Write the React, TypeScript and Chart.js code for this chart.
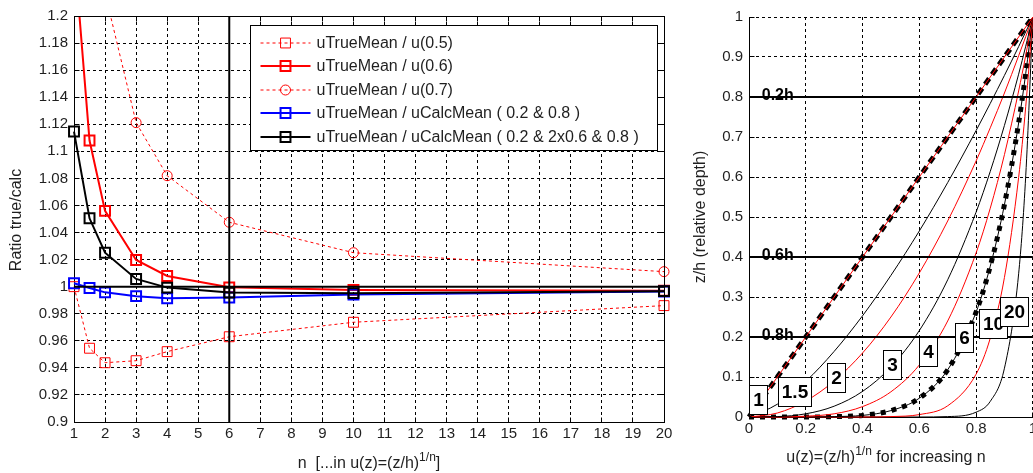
import React, { useEffect, useRef } from 'react';
import { Chart, registerables } from 'chart.js';

Chart.register(...registerables);

// ---------------- Left panel data ----------------
const nValues = [1, 1.5, 2, 3, 4, 6, 10, 20];
const ratioU05 = [1.0, 0.9545, 0.9438, 0.9453, 0.952, 0.963, 0.9737, 0.986];
const ratioU06 = [1.25, 1.108, 1.056, 1.0197, 1.0079, 0.9995, 0.9976, 0.997];
const ratioU07 = [1.667, 1.339, 1.217, 1.1212, 1.082, 1.0476, 1.0251, 1.0111];
const ratioCalc2pt = [1.0025, 0.999, 0.9958, 0.993, 0.9914, 0.992, 0.9942, 0.9964];
const ratioCalc4pt = [1.1146, 1.0505, 1.0251, 1.0057, 0.9993, 0.9956, 0.9952, 0.9967];
const seriesNames = [
  'uTrueMean / u(0.5)',
  'uTrueMean / u(0.6)',
  'uTrueMean / u(0.7)',
  'uTrueMean / uCalcMean ( 0.2 & 0.8 )',
  'uTrueMean / uCalcMean ( 0.2 & 2x0.6 & 0.8 )',
];
const unityLineN = [1, 20];
const unityLineRatio = [1, 1];
const markerLineN = [6, 6];
const markerLineRatio = [0.9, 1.2];
const nTicks = [1, 2, 3, 4, 5, 6, 7, 8, 9, 10, 11, 12, 13, 14, 15, 16, 17, 18, 19, 20];
const ratioTicks = [0.9, 0.92, 0.94, 0.96, 0.98, 1, 1.02, 1.04, 1.06, 1.08, 1.1, 1.12, 1.14, 1.16, 1.18, 1.2];
const ratioTickLabels = ['0.9', '0.92', '0.94', '0.96', '0.98', '1', '1.02', '1.04', '1.06', '1.08', '1.1', '1.12', '1.14', '1.16', '1.18', '1.2'];
const leftYTitle = 'Ratio true/calc';
const leftXTitle = [{ t: 'n  [...in u(z)=(z/h)' }, { t: '1/n', sup: true }, { t: ']' }];

// ---------------- Right panel data ----------------
const uGrid = [0, 0.1, 0.2, 0.3, 0.4, 0.5, 0.6, 0.7, 0.8, 0.85, 0.9, 0.95, 0.975, 1];
const zN1 = [0, 0.1, 0.2, 0.3, 0.4, 0.5, 0.6, 0.7, 0.8, 0.85, 0.9, 0.95, 0.975, 1];
const zN1p5 = [0, 0.032, 0.089, 0.164, 0.253, 0.354, 0.465, 0.586, 0.716, 0.784, 0.854, 0.926, 0.963, 1];
const zN2 = [0, 0.01, 0.04, 0.09, 0.16, 0.25, 0.36, 0.49, 0.64, 0.723, 0.81, 0.903, 0.951, 1];
const zN3 = [0, 0.001, 0.008, 0.027, 0.064, 0.125, 0.216, 0.343, 0.512, 0.614, 0.729, 0.857, 0.927, 1];
const zN4 = [0, 0, 0.002, 0.008, 0.026, 0.063, 0.13, 0.24, 0.41, 0.522, 0.656, 0.815, 0.904, 1];
const zN6 = [0, 0, 0, 0.001, 0.004, 0.016, 0.047, 0.118, 0.262, 0.377, 0.531, 0.735, 0.859, 1];
const zN10 = [0, 0, 0, 0, 0, 0.001, 0.006, 0.028, 0.107, 0.197, 0.349, 0.599, 0.776, 1];
const zN20 = [0, 0, 0, 0, 0, 0, 0, 0.001, 0.012, 0.039, 0.122, 0.358, 0.603, 1];
const profileLabels = ['1', '1.5', '2', '3', '4', '6', '10', '20'];
const profileLabelU = [0.03, 0.16, 0.305, 0.504, 0.632, 0.758, 0.858, 0.932];
const profileLabelZ = [0.044, 0.064, 0.099, 0.131, 0.165, 0.199, 0.234, 0.265];
const depthLineU = [0, 1];
const depthLineZ = [0.8, 0.4, 0.2];
const depthLabels = ['0.2h', '0.6h', '0.8h'];
const depthLabelU = 0.045;
const uTicks = [0, 0.2, 0.4, 0.6, 0.8, 1];
const uTickLabels = ['0', '0.2', '0.4', '0.6', '0.8', '1'];
const zTicks = [0, 0.1, 0.2, 0.3, 0.4, 0.5, 0.6, 0.7, 0.8, 0.9, 1];
const zTickLabels = ['0', '0.1', '0.2', '0.3', '0.4', '0.5', '0.6', '0.7', '0.8', '0.9', '1'];
const rightYTitle = 'z/h (relative depth)';
const rightXTitle = [{ t: 'u(z)=(z/h)' }, { t: '1/n', sup: true }, { t: ' for increasing n' }];

// ---------------- Styles ----------------
const FONT = "'Liberation Sans', Arial, Helvetica, sans-serif";
const TXT = '#1f1f1f';
const RED = '#ff0000';
const BLUE = '#0000ff';
const BLACK = '#000000';
const NONE = 'rgba(0,0,0,0)';

Chart.defaults.font.family = FONT;
Chart.defaults.color = TXT;

const pts = (xs: number[], ys: number[]) => xs.map((x, i) => ({ x, y: ys[i] }));
const align = (p: number, w = 1) => Math.round(p - w / 2) + w / 2;

function drawRich(ctx: CanvasRenderingContext2D, parts: any[], cx: number, base: number, size: number) {
  const main = `${size}px ${FONT}`;
  const sup = `${Math.round(size * 0.72)}px ${FONT}`;
  let total = 0;
  const widths = parts.map((p) => {
    ctx.font = p.sup ? sup : main;
    const w = ctx.measureText(p.t).width;
    total += w;
    return w;
  });
  let x = cx - total / 2;
  ctx.textAlign = 'left';
  ctx.textBaseline = 'alphabetic';
  parts.forEach((p, i) => {
    ctx.font = p.sup ? sup : main;
    ctx.fillText(p.t, x, p.sup ? base - 7 : base);
    x += widths[i];
  });
}

function drawMarker(ctx: CanvasRenderingContext2D, style: string, x: number, y: number, r: number) {
  ctx.beginPath();
  if (style === 'circle') {
    ctx.arc(x, y, r, 0, Math.PI * 2);
  } else {
    const s = r * Math.SQRT1_2;
    ctx.rect(x - s, y - s, 2 * s, 2 * s);
  }
  ctx.stroke();
}

const leftDecor = {
  id: 'leftDecor',
  afterDraw(chart: any) {
    const { ctx, chartArea: ca, scales } = chart;
    const xs = scales.x;
    const ys = scales.y;
    ctx.save();
    ctx.setLineDash([]);
    ctx.strokeStyle = BLACK;
    ctx.lineWidth = 1;
    const L = align(ca.left), R = align(ca.right), T = align(ca.top), B = align(ca.bottom);
    ctx.beginPath();
    ctx.moveTo(L, T); ctx.lineTo(R, T); ctx.lineTo(R, B);
    ctx.stroke();
    ctx.beginPath();
    nTicks.forEach((v) => {
      const px = align(xs.getPixelForValue(v));
      ctx.moveTo(px, B); ctx.lineTo(px, B - 5);
      ctx.moveTo(px, T); ctx.lineTo(px, T + 5);
    });
    ratioTicks.forEach((v) => {
      const py = align(ys.getPixelForValue(v));
      ctx.moveTo(L, py); ctx.lineTo(L + 5, py);
      ctx.moveTo(R, py); ctx.lineTo(R - 5, py);
    });
    ctx.stroke();

    // legend
    const bx = Math.round(ca.left + 176) + 0.5;
    const by = Math.round(ca.top + 9) + 0.5;
    const bw = 407, bh = 125;
    ctx.fillStyle = '#ffffff';
    ctx.fillRect(bx, by, bw, bh);
    ctx.strokeStyle = BLACK;
    ctx.lineWidth = 1;
    ctx.strokeRect(bx, by, bw, bh);
    const legendSets = chart.data.datasets.filter((d: any) => d.legendIndex !== undefined)
      .sort((a: any, b: any) => a.legendIndex - b.legendIndex);
    legendSets.forEach((d: any, i: number) => {
      const y = Math.round(by + 17 + i * 23.6);
      ctx.strokeStyle = d.borderColor;
      ctx.lineWidth = d.borderWidth;
      ctx.setLineDash(d.borderDash || []);
      ctx.beginPath();
      ctx.moveTo(bx + 10, y);
      ctx.lineTo(bx + 60, y);
      ctx.stroke();
      ctx.setLineDash([]);
      ctx.lineWidth = d.pointBorderWidth;
      drawMarker(ctx, d.pointStyle, bx + 35, y, d.pointRadius);
      ctx.fillStyle = TXT;
      ctx.font = `16px ${FONT}`;
      ctx.textAlign = 'left';
      ctx.textBaseline = 'middle';
      ctx.fillText(d.label, bx + 66, y + 1);
    });

    // titles
    ctx.fillStyle = TXT;
    drawRich(ctx, leftXTitle, (ca.left + ca.right) / 2, 468, 16);
    ctx.save();
    ctx.translate(17, (ca.top + ca.bottom) / 2 + 1);
    ctx.rotate(-Math.PI / 2);
    ctx.font = `16px ${FONT}`;
    ctx.textAlign = 'center';
    ctx.textBaseline = 'middle';
    ctx.fillText(leftYTitle, 0, 0);
    ctx.restore();
    ctx.restore();
  },
};

const rightDecor = {
  id: 'rightDecor',
  afterDraw(chart: any) {
    const { ctx, chartArea: ca, scales } = chart;
    const xs = scales.x;
    const ys = scales.y;
    ctx.save();
    ctx.setLineDash([]);
    ctx.strokeStyle = BLACK;
    ctx.lineWidth = 1;
    const L = align(ca.left), B = align(ca.bottom);
    ctx.beginPath();
    uTicks.forEach((v) => {
      const px = align(xs.getPixelForValue(v));
      ctx.moveTo(px, B); ctx.lineTo(px, B - 5);
    });
    zTicks.forEach((v) => {
      const py = align(ys.getPixelForValue(v));
      ctx.moveTo(L, py); ctx.lineTo(L + 5, py);
    });
    ctx.stroke();

    // depth labels
    ctx.fillStyle = BLACK;
    ctx.font = `bold 16px ${FONT}`;
    ctx.textAlign = 'left';
    ctx.textBaseline = 'alphabetic';
    depthLineZ.forEach((z, i) => {
      ctx.fillText(depthLabels[i], xs.getPixelForValue(depthLabelU), ys.getPixelForValue(z) + 3);
    });

    // profile labels in boxes
    ctx.font = `bold 19px ${FONT}`;
    profileLabels.forEach((lab, i) => {
      const cx = xs.getPixelForValue(profileLabelU[i]);
      const cy = ys.getPixelForValue(profileLabelZ[i]);
      const w = Math.round(ctx.measureText(lab).width + 7);
      const h = 29;
      const x0 = Math.round(cx - w / 2) + 0.5;
      const y0 = Math.round(cy - h / 2) + 0.5;
      ctx.fillStyle = '#ffffff';
      ctx.fillRect(x0, y0, w, h);
      ctx.strokeStyle = BLACK;
      ctx.lineWidth = 1;
      ctx.strokeRect(x0, y0, w, h);
      ctx.fillStyle = BLACK;
      ctx.textAlign = 'center';
      ctx.textBaseline = 'middle';
      ctx.fillText(lab, x0 + w / 2, y0 + h / 2 + 1);
    });

    // titles
    ctx.fillStyle = TXT;
    drawRich(ctx, rightXTitle, ca.left + 137, 462, 16);
    ctx.save();
    ctx.translate(11, (ca.top + ca.bottom) / 2);
    ctx.rotate(-Math.PI / 2);
    ctx.font = `16px ${FONT}`;
    ctx.textAlign = 'center';
    ctx.textBaseline = 'middle';
    ctx.fillText(rightYTitle, 0, 0);
    ctx.restore();
    ctx.restore();
  },
};

const gridOpts = { color: BLACK, lineWidth: 1, drawTicks: false };
const borderOpts = { display: true, color: BLACK, width: 1, dash: [3, 3] };
const tickFont = { size: 15, family: FONT };
const LEFT_CLIP = { left: 8, right: 8, top: 0, bottom: 0 };

function leftConfig(): any {
  return {
    type: 'line',
    data: {
      datasets: [
        { label: 'unity', data: pts(unityLineN, unityLineRatio), borderColor: BLACK, borderWidth: 2, pointRadius: 0, order: 0, clip: LEFT_CLIP },
        { label: 'n6', data: pts(markerLineN, markerLineRatio), borderColor: BLACK, borderWidth: 2, pointRadius: 0, order: 0, clip: LEFT_CLIP },
        {
          label: seriesNames[4], legendIndex: 4, data: pts(nValues, ratioCalc4pt), borderColor: BLACK, borderWidth: 2,
          pointStyle: 'rect', pointRadius: 7, pointBorderWidth: 2, pointBorderColor: BLACK, pointBackgroundColor: NONE, order: 1, clip: LEFT_CLIP,
        },
        {
          label: seriesNames[3], legendIndex: 3, data: pts(nValues, ratioCalc2pt), borderColor: BLUE, borderWidth: 2,
          pointStyle: 'rect', pointRadius: 7, pointBorderWidth: 2, pointBorderColor: BLUE, pointBackgroundColor: NONE, order: 2, clip: LEFT_CLIP,
        },
        {
          label: seriesNames[2], legendIndex: 2, data: pts(nValues, ratioU07), borderColor: RED, borderWidth: 1, borderDash: [3, 3],
          pointStyle: 'circle', pointRadius: 5, pointBorderWidth: 1, pointBorderColor: RED, pointBackgroundColor: NONE, order: 3, clip: LEFT_CLIP,
        },
        {
          label: seriesNames[1], legendIndex: 1, data: pts(nValues, ratioU06), borderColor: RED, borderWidth: 2,
          pointStyle: 'rect', pointRadius: 7, pointBorderWidth: 2, pointBorderColor: RED, pointBackgroundColor: NONE, order: 4, clip: LEFT_CLIP,
        },
        {
          label: seriesNames[0], legendIndex: 0, data: pts(nValues, ratioU05), borderColor: RED, borderWidth: 1, borderDash: [3, 3],
          pointStyle: 'rect', pointRadius: 7, pointBorderWidth: 1, pointBorderColor: RED, pointBackgroundColor: NONE, order: 5, clip: LEFT_CLIP,
        },
      ],
    },
    options: {
      animation: false,
      responsive: false,
      devicePixelRatio: 1,
      events: [],
      layout: { padding: { left: 0, top: 16, right: 26, bottom: 0 } },
      plugins: { legend: { display: false }, tooltip: { enabled: false } },
      scales: {
        x: {
          type: 'linear', min: 1, max: 20,
          afterBuildTicks: (s: any) => { s.ticks = nTicks.map((v) => ({ value: v })); },
          afterFit: (s: any) => { s.height = 51; },
          ticks: { callback: (_v: any, i: number) => String(nTicks[i]), font: tickFont, color: TXT, padding: 3, autoSkip: false, maxRotation: 0 },
          grid: gridOpts, border: borderOpts,
        },
        y: {
          type: 'linear', min: 0.9, max: 1.2,
          afterBuildTicks: (s: any) => { s.ticks = ratioTicks.map((v) => ({ value: v })); },
          afterFit: (s: any) => { s.width = 74; },
          ticks: { callback: (_v: any, i: number) => ratioTickLabels[i], font: tickFont, color: TXT, padding: 6, autoSkip: false },
          grid: gridOpts, border: borderOpts,
        },
      },
    },
    plugins: [leftDecor],
  };
}

function curve(zs: number[], color: string, order: number, extra: any = {}) {
  return {
    data: pts(uGrid, zs), borderColor: color, borderWidth: 1, pointRadius: 0,
    cubicInterpolationMode: 'monotone', order, clip: false, ...extra,
  };
}

function rightConfig(): any {
  return {
    type: 'line',
    data: {
      datasets: [
        ...depthLineZ.map((z) => ({
          data: pts(depthLineU, [z, z]), borderColor: BLACK, borderWidth: 2, pointRadius: 0, order: 0, clip: false,
        })),
        curve(zN1, RED, 1),
        curve(zN1p5, BLACK, 1),
        curve(zN2, RED, 1),
        curve(zN3, BLACK, 1),
        curve(zN4, RED, 1),
        curve(zN6, BLACK, 1),
        curve(zN10, RED, 1),
        curve(zN20, BLACK, 1),
        curve(zN1, BLACK, 2, { borderWidth: 5, borderDash: [7, 5] }),
        curve(zN6, BLACK, 2, { borderWidth: 5, borderDash: [5, 6] }),
      ],
    },
    options: {
      animation: false,
      responsive: false,
      devicePixelRatio: 1,
      events: [],
      layout: { padding: { left: 0, top: 17, right: 6, bottom: 0 } },
      plugins: { legend: { display: false }, tooltip: { enabled: false } },
      scales: {
        x: {
          type: 'linear', min: 0, max: 1,
          afterBuildTicks: (s: any) => { s.ticks = uTicks.map((v) => ({ value: v })); },
          afterFit: (s: any) => { s.height = 56; },
          ticks: { callback: (_v: any, i: number) => uTickLabels[i], font: tickFont, color: TXT, padding: 3, autoSkip: false, maxRotation: 0 },
          grid: gridOpts, border: borderOpts,
        },
        y: {
          type: 'linear', min: 0, max: 1,
          afterBuildTicks: (s: any) => { s.ticks = zTicks.map((v) => ({ value: v })); },
          afterFit: (s: any) => { s.width = 59; },
          ticks: { callback: (_v: any, i: number) => zTickLabels[i], font: tickFont, color: TXT, padding: 6, autoSkip: false },
          grid: gridOpts, border: borderOpts,
        },
      },
    },
    plugins: [rightDecor],
  };
}

function ChartCanvas(props: { make: () => any; left: number; width: number; height: number }) {
  const ref = useRef<HTMLCanvasElement>(null);
  useEffect(() => {
    const chart = new Chart(ref.current as HTMLCanvasElement, props.make());
    return () => chart.destroy();
  }, []);
  return (
    <canvas
      ref={ref}
      width={props.width}
      height={props.height}
      style={{ position: 'absolute', left: props.left, top: 0, width: props.width, height: props.height }}
    />
  );
}

export default function App() {
  return (
    <div style={{ position: 'fixed', left: 0, top: 0, width: 1033, height: 473, overflow: 'hidden', background: '#ffffff' }}>
      <ChartCanvas make={leftConfig} left={0} width={690} height={473} />
      <ChartCanvas make={rightConfig} left={690} width={350} height={473} />
    </div>
  );
}
